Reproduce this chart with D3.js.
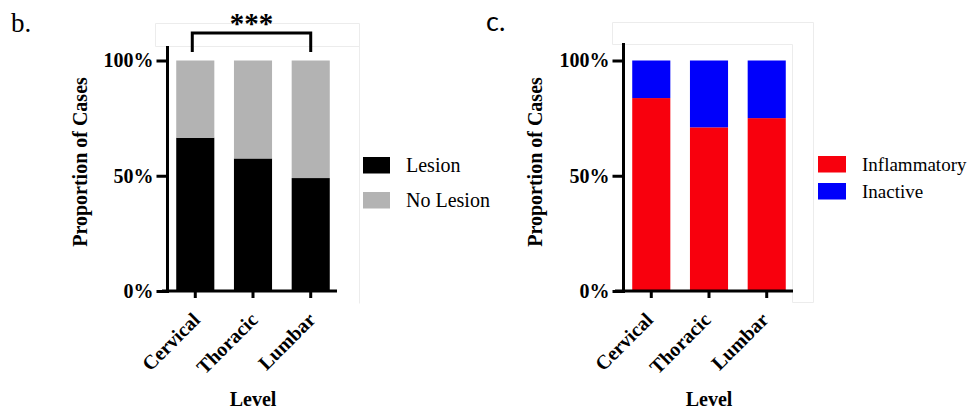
<!DOCTYPE html>
<html>
<head>
<meta charset="utf-8">
<script src="https://cdn.jsdelivr.net/npm/d3@7"></script>
<style>
  html, body { margin: 0; padding: 0; background: #fff; }
  svg { display: block; }
  text { font-family: "Liberation Serif", "Times New Roman", serif; }
</style>
</head>
<body>
<svg id="chart" width="976" height="414"></svg>
<script>
// ---- data ----
const categories = ["Cervical", "Thoracic", "Lumbar"];
const lesion = [0.665, 0.575, 0.49];
const noLesion = [0.335, 0.425, 0.51];
const inflammatory = [0.837, 0.71, 0.75];
const inactive = [0.163, 0.29, 0.25];
const yTickValues = [0, 0.5, 1];
const seriesB = ["Lesion", "No Lesion"];
const seriesC = ["Inflammatory", "Inactive"];
const colorsB = ["#000000", "#b3b3b3"];
const colorsC = ["#f8000d", "#0000fb"];

const svg = d3.select("#chart");

// faint frame artifacts
const faint = svg.append("g").attr("stroke", "#ececec").attr("stroke-width", 1).attr("fill", "none");
faint.append("path").attr("d", "M155.5,23.5H359.5V303.5 M155.5,23.5V46.5H359.5");
faint.append("path").attr("d", "M612.5,22.5H813.5V302.5 M612.5,22.5V44.5H792.5V302.5H813.5");

function panel(opts) {
  const g = svg.append("g");
  const x = d3.scaleBand().domain(categories).range(opts.xRange)
    .paddingInner(0.34).paddingOuter(0.16);
  const y = d3.scaleLinear().domain([0, 1]).range([291, 60.5]);

  const stackData = categories.map((c, i) => {
    const o = { cat: c };
    opts.series.forEach((s, k) => o[s] = opts.values[k][i]);
    return o;
  });
  const stacked = d3.stack().keys(opts.series)(stackData);

  g.selectAll("g.layer").data(stacked).join("g")
    .attr("class", "layer")
    .attr("fill", (d, k) => opts.colors[k])
    .selectAll("rect").data(d => d).join("rect")
    .attr("x", d => x(d.data.cat))
    .attr("width", x.bandwidth())
    .attr("y", d => y(d[1]))
    .attr("height", d => y(d[0]) - y(d[1]));

  // y axis
  const yAxis = d3.axisLeft(y).tickValues(yTickValues)
    .tickFormat(d3.format(".0%")).tickSize(11).tickSizeOuter(0).tickPadding(3);
  const ya = g.append("g").attr("transform", `translate(${opts.xRange[0] + 0.5},0)`).call(yAxis);
  ya.select(".domain").attr("d", `M0,${opts.yTop}V293`);
  ya.selectAll("path, line").attr("stroke", "#000").attr("stroke-width", 3);
  ya.selectAll("text").attr("font-family", "Liberation Serif").attr("font-size", 20)
    .attr("font-weight", "bold").attr("fill", "#000");

  // x axis
  const xAxis = d3.axisBottom(x).tickSize(7).tickSizeOuter(0);
  const xa = g.append("g").attr("transform", "translate(0,291)").call(xAxis);
  xa.select(".domain").attr("d", `M${opts.xLine[0]},0H${opts.xLine[1]}`);
  xa.selectAll("path, line").attr("stroke", "#000").attr("stroke-width", 3);
  xa.selectAll("text")
    .attr("font-family", "Liberation Serif").attr("font-size", 20).attr("font-weight", "bold")
    .attr("fill", "#000")
    .attr("text-anchor", "end")
    .attr("x", 0).attr("y", 0).attr("dy", 0)
    .attr("transform", `translate(${opts.labelDx},30) rotate(-45)`);

  // titles
  g.append("text")
    .attr("transform", `translate(${opts.yTitleX},162) rotate(-90)`)
    .attr("text-anchor", "middle").attr("font-size", 20).attr("font-weight", "bold")
    .text("Proportion of Cases");
  g.append("text")
    .attr("x", x("Thoracic") + x.bandwidth() / 2).attr("y", 406)
    .attr("text-anchor", "middle").attr("font-size", 20).attr("font-weight", "bold")
    .text("Level");

  // legend
  const lg = g.append("g");
  opts.series.forEach((s, k) => {
    const yy = opts.legend.y + k * opts.legend.gap;
    lg.append("rect").attr("x", opts.legend.x).attr("y", yy)
      .attr("width", opts.legend.w).attr("height", 16.5).attr("fill", opts.colors[k]);
    lg.append("text").attr("x", opts.legend.tx).attr("y", yy + 14.5)
      .attr("font-size", opts.legend.fs).attr("fill", "#000").text(s);
  });
  return { g, x, y };
}

const pb = panel({
  xRange: [167, 339], xLine: [162, 337], yTop: 46, series: seriesB,
  values: [lesion, noLesion], colors: colorsB, labelDx: 6, yTitleX: 87,
  legend: { x: 363, y: 157, gap: 35, w: 27, tx: 406, fs: 20 }
});
const pc = panel({
  xRange: [623, 795], xLine: [615, 793], yTop: 43, series: seriesC,
  values: [inflammatory, inactive], colors: colorsC, labelDx: 3, yTitleX: 542,
  legend: { x: 818, y: 156, gap: 27, w: 28, tx: 862, fs: 19 }
});

// significance bracket
const xl = pb.x("Cervical") + pb.x.bandwidth() / 2 - 3;
const xr = pb.x("Lumbar") + pb.x.bandwidth() / 2;
svg.append("path")
  .attr("d", `M${xl},52V33H${xr}V52`)
  .attr("fill", "none").attr("stroke", "#000").attr("stroke-width", 3);
svg.append("text").attr("x", (xl + xr) / 2).attr("y", 33)
  .attr("text-anchor", "middle").attr("font-size", 29).attr("font-weight", "bold")
  .text("***");

// panel labels
svg.append("text").attr("x", 11).attr("y", 32)
  .attr("font-size", 27).attr("fill", "#000").text("b.");
svg.append("text").attr("x", 486).attr("y", 31)
  .attr("font-size", 27).attr("fill", "#000")
  .style("font-family", "Lato, 'Open Sans', sans-serif").text("c.");
</script>
</body>
</html>
